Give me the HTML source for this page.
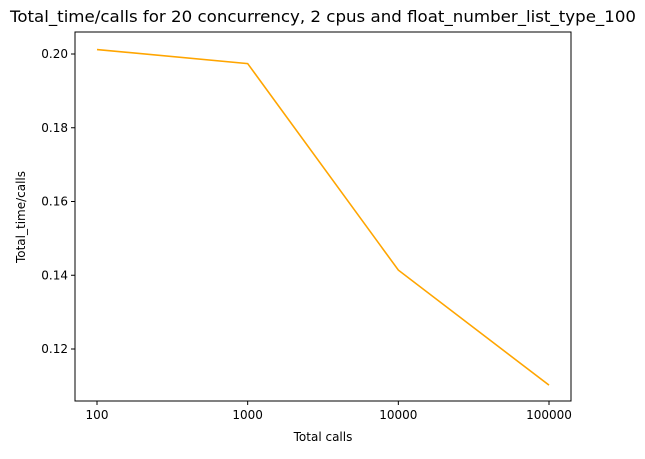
<!DOCTYPE html>
<html><head><meta charset="utf-8"><style>
body{margin:0;background:#fff;font-family:"DejaVu Sans","Liberation Sans",sans-serif;}
svg text{font-family:"DejaVu Sans","Liberation Sans",sans-serif;}
</style></head><body>
<svg id="chart" width="645" height="455" xmlns="http://www.w3.org/2000/svg">
<rect width="645" height="455" fill="#fff"/>
<text x="10" y="22" font-size="16" textLength="626" lengthAdjust="spacingAndGlyphs">Total_time/calls for 20 concurrency, 2 cpus and float_number_list_type_100</text>
<g id="axes"></g>
<text x="323" y="441" font-size="12" text-anchor="middle">Total calls</text>
<text transform="translate(25,217) rotate(-90)" font-size="12" text-anchor="middle">Total_time/calls</text>
</svg>
<script>
const categories=["100","1000","10000","100000"];
const values=[0.2012,0.1974,0.1414,0.1102];
const yTicks=[0.12,0.14,0.16,0.18,0.20];
const yTickLabels=["0.12","0.14","0.16","0.18","0.20"];
const L=75,R=571,T=32,B=401;
const NS="http://www.w3.org/2000/svg";
const g=document.getElementById('axes');
function xs(i){return 97+i*(549-97)/(categories.length-1);}
function ys(v){return 54+(0.20-v)*73.75/0.02;}
function mk(t,a){const e=document.createElementNS(NS,t);for(const k in a)e.setAttribute(k,a[k]);g.appendChild(e);return e;}
const fr=mk('rect',{x:L,y:T,width:R-L,height:B-T,fill:'none',stroke:'#000','stroke-width':1});


yTicks.forEach((v,i)=>{const y=ys(v);
const t=mk('line',{x1:L-4,x2:L,y1:y,y2:y,stroke:'#000'});


const l=mk('text',{x:L-7,y:y+4,'font-size':12,'text-anchor':'end'});l.textContent=yTickLabels[i];

});
categories.forEach((c,i)=>{const x=xs(i);
const t=mk('line',{x1:x,x2:x,y1:B,y2:B+4,stroke:'#000'});


const l=mk('text',{x:x,y:B+18,'font-size':12,'text-anchor':'middle'});l.textContent=c;

});
const p=mk('polyline',{points:values.map((v,i)=>xs(i)+','+ys(v)).join(' '),fill:'none',stroke:'#ffa500','stroke-width':1.6});


</script>
</body></html>
